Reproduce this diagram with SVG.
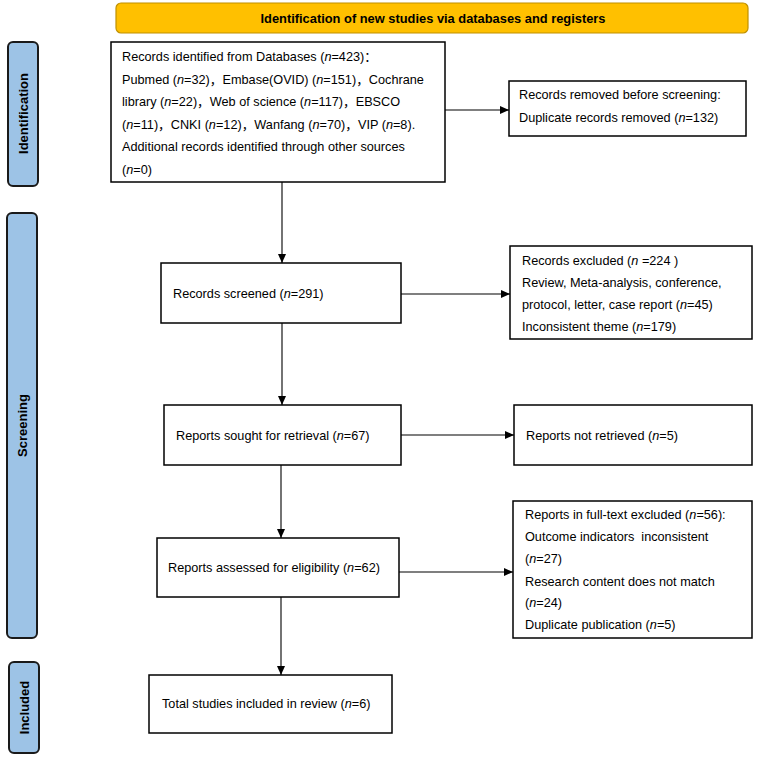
<svg xmlns="http://www.w3.org/2000/svg" width="760" height="759" viewBox="0 0 760 759">
<defs>
<marker id="arr" markerWidth="10" markerHeight="8" refX="9" refY="4" orient="auto" markerUnits="userSpaceOnUse">
<path d="M0,0 L9,4 L0,8 Z" fill="#000"/>
</marker>
<style>
.box{fill:#fff;stroke:#000;stroke-width:1.5}
.bar{fill:#9dc3e6;stroke:#1a1a1a;stroke-width:2}
.t{font-family:"Liberation Sans","Noto Sans CJK SC",Arial,sans-serif;font-size:12.7px;fill:#000}
.lbl{font-family:"Liberation Sans",Arial,sans-serif;font-size:13px;font-weight:bold;fill:#000;text-anchor:middle}
.c{stroke:#000;stroke-width:1.1;fill:none;marker-end:url(#arr)}
.i{font-style:italic}
</style>
</defs>
<rect width="760" height="759" fill="#fff"/>

<g id="banner">
<rect x="116" y="3" width="632" height="30" rx="5" fill="#ffc000" stroke="#bf9000" stroke-width="1.2"/>
<text x="433" y="23" font-family="Liberation Sans,Arial,sans-serif" font-size="13.5" font-weight="bold" text-anchor="middle" textLength="345" lengthAdjust="spacingAndGlyphs">Identification of new studies via databases and registers</text>
</g>

<g id="phase-identification">
<rect class="bar" x="8" y="42" width="30" height="144" rx="5"/>
<text class="lbl" transform="translate(27.5,113.5) rotate(-90)">Identification</text>
</g>
<g id="phase-screening">
<rect class="bar" x="7" y="213" width="30" height="425" rx="5"/>
<text class="lbl" transform="translate(26.5,425.5) rotate(-90)">Screening</text>
</g>
<g id="phase-included">
<rect class="bar" x="9" y="662" width="30" height="91" rx="5"/>
<text class="lbl" transform="translate(28.5,707.5) rotate(-90)">Included</text>
</g>

<g id="records-identified">
<rect class="box" x="111" y="42" width="334" height="140"/>
<text class="t" x="122" y="61">Records identified from Databases (<tspan class="i">n</tspan>=423)：</text>
<text class="t" x="122" y="83.5">Pubmed (<tspan class="i">n</tspan>=32)，Embase(OVID) (<tspan class="i">n</tspan>=151)，Cochrane</text>
<text class="t" x="122" y="106">library (<tspan class="i">n</tspan>=22)，Web of science (<tspan class="i">n</tspan>=117)，EBSCO</text>
<text class="t" x="122" y="128.5">(<tspan class="i">n</tspan>=11)，CNKI (<tspan class="i">n</tspan>=12)，Wanfang (<tspan class="i">n</tspan>=70)，VIP (<tspan class="i">n</tspan>=8).</text>
<text class="t" x="122" y="151">Additional records identified through other sources</text>
<text class="t" x="122" y="173.5">(<tspan class="i">n</tspan>=0)</text>
</g>

<g id="records-removed">
<rect class="box" x="509" y="81" width="237" height="55"/>
<text class="t" x="519" y="99">Records removed before screening:</text>
<text class="t" x="519" y="122">Duplicate records removed (<tspan class="i">n</tspan>=132)</text>
</g>

<g id="records-screened">
<rect class="box" x="161" y="263" width="240" height="60"/>
<text class="t" x="173" y="298">Records screened (<tspan class="i">n</tspan>=291)</text>
</g>

<g id="records-excluded">
<rect class="box" x="510" y="246" width="242" height="93"/>
<text class="t" x="522" y="265">Records excluded (<tspan class="i">n</tspan> =224 )</text>
<text class="t" x="522" y="287">Review, Meta-analysis, conference,</text>
<text class="t" x="522" y="308.5">protocol, letter, case report (<tspan class="i">n</tspan>=45)</text>
<text class="t" x="522" y="331">Inconsistent theme (<tspan class="i">n</tspan>=179)</text>
</g>

<g id="reports-sought">
<rect class="box" x="164" y="405" width="237" height="60"/>
<text class="t" x="176" y="440">Reports sought for retrieval (<tspan class="i">n</tspan>=67)</text>
</g>

<g id="reports-not-retrieved">
<rect class="box" x="514" y="405" width="238" height="60"/>
<text class="t" x="526" y="440">Reports not retrieved (<tspan class="i">n</tspan>=5)</text>
</g>

<g id="reports-assessed">
<rect class="box" x="157" y="538" width="242" height="59"/>
<text class="t" x="168" y="572">Reports assessed for eligibility (<tspan class="i">n</tspan>=62)</text>
</g>

<g id="fulltext-excluded">
<rect class="box" x="513" y="501" width="239" height="137"/>
<text class="t" x="525" y="519">Reports in full-text excluded (<tspan class="i">n</tspan>=56):</text>
<text class="t" x="525" y="541" style="white-space:pre">Outcome indicators  inconsistent</text>
<text class="t" x="525" y="563">(<tspan class="i">n</tspan>=27)</text>
<text class="t" x="525" y="586">Research content does not match</text>
<text class="t" x="525" y="607">(<tspan class="i">n</tspan>=24)</text>
<text class="t" x="525" y="629">Duplicate publication (<tspan class="i">n</tspan>=5)</text>
</g>

<g id="total-included">
<rect class="box" x="149" y="675" width="243" height="58"/>
<text class="t" x="162" y="708">Total studies included in review (<tspan class="i">n</tspan>=6)</text>
</g>

<g id="connectors">
<line class="c" x1="282" y1="182" x2="282" y2="263"/>
<line class="c" x1="445" y1="110" x2="509" y2="110"/>
<line class="c" x1="401" y1="294" x2="510" y2="294"/>
<line class="c" x1="282" y1="323" x2="282" y2="405"/>
<line class="c" x1="401" y1="435" x2="514" y2="435"/>
<line class="c" x1="281" y1="465" x2="281" y2="538"/>
<line class="c" x1="399" y1="572" x2="513" y2="572"/>
<line class="c" x1="281" y1="597" x2="281" y2="675"/>
</g>
</svg>
